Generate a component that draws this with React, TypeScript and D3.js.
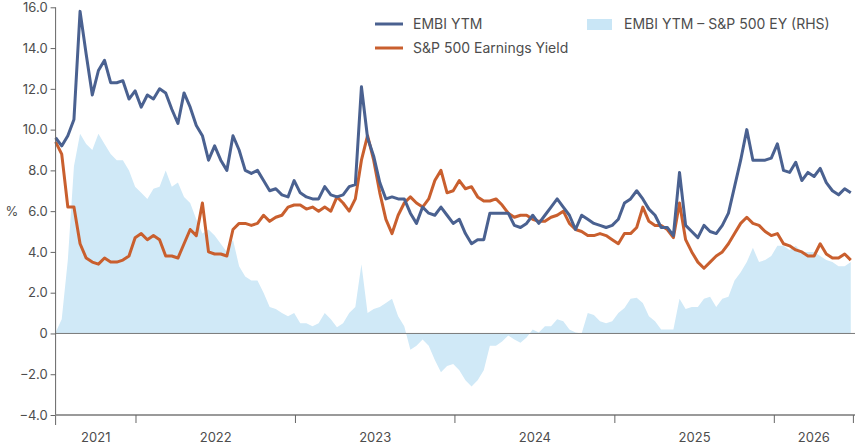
import * as d3 from "d3";
import { useEffect, useRef } from "react";

// fortnightly observations starting 1 Jul 2021
const startDate = new Date(2021, 6, 1);
const endDate = new Date(2026, 6, 1);
const stepDays = 14;

const embiYtm = [
  9.6, 9.2, 9.7, 10.5, 15.8, 13.7, 11.7, 12.9, 13.4, 12.3, 12.3, 12.4, 11.5, 11.9, 11.1, 11.7, 11.5, 12.0, 11.8, 11.0,
  10.3, 11.8, 11.1, 10.2, 9.7, 8.5, 9.2, 8.5, 8.0, 9.7, 9.0, 8.0, 7.85, 8.0, 7.5, 7.0, 7.1, 6.8, 6.7, 7.5,
  6.9, 6.7, 6.6, 6.6, 7.2, 6.8, 6.7, 6.8, 7.2, 7.3, 12.1, 9.6, 8.7, 7.4, 6.6, 6.7, 6.6, 6.6, 5.9, 5.4,
  6.2, 5.9, 5.8, 6.2, 5.8, 5.4, 5.6, 4.9, 4.4, 4.6, 4.6, 5.9, 5.9, 5.9, 5.9, 5.3, 5.2, 5.4, 5.8, 5.4,
  5.8, 6.2, 6.6, 6.2, 5.8, 5.1, 5.8, 5.6, 5.4, 5.3, 5.2, 5.3, 5.6, 6.4, 6.6, 7.0, 6.6, 6.1, 5.8, 5.2,
  5.2, 4.8, 7.9, 5.3, 5.0, 4.7, 5.3, 5.0, 4.9, 5.3, 5.9, 7.2, 8.5, 10.0, 8.5, 8.5, 8.5, 8.6, 9.3, 8.0,
  7.9, 8.4, 7.5, 7.9, 7.7, 8.1, 7.4, 7.0, 6.8, 7.1, 6.9,
];

const spEarningsYield = [
  9.4, 8.8, 6.2, 6.2, 4.4, 3.7, 3.5, 3.4, 3.7, 3.5, 3.5, 3.6, 3.8, 4.7, 4.9, 4.6, 4.8, 4.6, 3.8, 3.8,
  3.7, 4.4, 5.1, 4.8, 6.4, 4.0, 3.9, 3.9, 3.8, 5.1, 5.4, 5.4, 5.3, 5.4, 5.8, 5.5, 5.7, 5.8, 6.2, 6.3,
  6.3, 6.1, 6.2, 6.0, 6.2, 6.0, 6.7, 6.4, 6.0, 6.6, 8.5, 9.7, 8.5, 6.9, 5.6, 4.9, 5.8, 6.4, 6.7, 6.4,
  6.2, 6.6, 7.5, 8.0, 6.9, 7.0, 7.5, 7.1, 7.2, 6.7, 6.5, 6.5, 6.6, 6.3, 5.9, 5.7, 5.8, 5.8, 5.6, 5.5,
  5.5, 5.7, 5.8, 6.0, 5.4, 5.1, 5.0, 4.8, 4.8, 4.9, 4.8, 4.6, 4.4, 4.9, 4.9, 5.2, 6.2, 5.5, 5.3, 5.3,
  5.1, 4.7, 6.4, 4.6, 4.0, 3.5, 3.2, 3.5, 3.8, 4.0, 4.4, 4.9, 5.4, 5.7, 5.4, 5.3, 5.0, 4.8, 4.9, 4.4,
  4.3, 4.1, 4.0, 3.8, 3.8, 4.4, 3.9, 3.7, 3.7, 3.9, 3.6,
];

const spread = [
  0.05, 0.7, 3.6, 8.2, 9.8, 9.3, 9.0, 9.8, 9.3, 8.8, 8.5, 8.5, 8.0, 7.2, 6.9, 6.6, 7.1, 7.2, 8.0, 7.2,
  7.4, 6.7, 6.4, 5.6, 4.9, 5.1, 4.8, 4.4, 4.0, 4.6, 3.3, 2.8, 2.6, 2.6, 2.0, 1.3, 1.2, 1.0, 0.85, 1.0,
  0.5, 0.5, 0.35, 0.5, 1.0, 0.7, 0.3, 0.5, 1.0, 1.3, 3.4, 1.0, 1.2, 1.3, 1.5, 1.7, 0.85, 0.35, -0.8, -0.6,
  -0.3, -0.6, -1.3, -1.9, -1.6, -1.5, -1.8, -2.3, -2.6, -2.3, -1.8, -0.6, -0.6, -0.4, -0.1, -0.3, -0.45, -0.2, 0.2, 0.05,
  0.35, 0.35, 0.7, 0.6, 0.2, 0.05, 0.0, 1.0, 0.9, 0.6, 0.5, 0.6, 1.0, 1.25, 1.7, 1.75, 1.5, 0.85, 0.6, 0.2,
  0.2, 0.2, 1.7, 1.2, 1.3, 1.3, 1.7, 1.8, 1.3, 1.7, 1.8, 2.6, 3.0, 3.5, 4.2, 3.5, 3.6, 3.8, 4.3, 4.3,
  4.1, 4.3, 4.0, 4.0, 4.0, 3.8, 3.6, 3.5, 3.3, 3.3, 3.5,
];

const yTicks = [16, 14, 12, 10, 8, 6, 4, 2, 0, -2, -4];

const legendLines = [
  { label: "EMBI YTM", color: "#4a6190" },
  { label: "S&P 500 Earnings Yield", color: "#c95f2e" },
];
const legendArea = { label: "EMBI YTM \u2013 S&P 500 EY (RHS)", color: "#c9e6f6" };

export default function App() {
  const ref = useRef<SVGSVGElement>(null);

  useEffect(() => {
    if (!ref.current) return;
    const el = ref.current;
    d3.select(el).selectAll("*").remove();

    const W = 855;
    const H = 446;
    const margin = { top: 7.3, right: 1.6, bottom: 31, left: 55.6 };
    const font = "Inter, 'Noto Sans', sans-serif";
    const textColor = "#4d4d4d";

    const svg = d3.select(el).attr("width", W).attr("height", H);

    const dates = embiYtm.map((_, i) => d3.timeDay.offset(startDate, i * stepDays));

    const x = d3.scaleTime().domain([startDate, endDate]).range([margin.left, W - margin.right]);
    const y = d3
      .scaleLinear()
      .domain([-4, 16])
      .range([H - margin.bottom, margin.top]);

    // spread area (behind lines)
    const area = d3
      .area<number>()
      .x((_, i) => x(dates[i]))
      .y0(y(0))
      .y1(d => y(d));
    svg.append("path").datum(spread).attr("d", area).attr("fill", "#d0e9f7");

    // zero line
    svg
      .append("line")
      .attr("x1", margin.left)
      .attr("x2", W)
      .attr("y1", y(0))
      .attr("y2", y(0))
      .attr("stroke", "#7a7a7a")
      .attr("stroke-width", 1);

    // lines
    const line = d3
      .line<number>()
      .x((_, i) => x(dates[i]))
      .y(d => y(d));
    [
      { values: spEarningsYield, color: legendLines[1].color },
      { values: embiYtm, color: legendLines[0].color },
    ].forEach(s => {
      svg
        .append("path")
        .datum(s.values)
        .attr("d", line)
        .attr("fill", "none")
        .attr("stroke", s.color)
        .attr("stroke-width", 3)
        .attr("stroke-linejoin", "round");
    });

    // Y axis
    svg
      .append("g")
      .attr("transform", `translate(${margin.left},0)`)
      .call(
        d3
          .axisLeft(y)
          .tickValues(yTicks)
          .tickSize(5)
          .tickPadding(3)
          .tickFormat(d => (+d === 0 ? "0" : d3.format(".1f")(+d))),
      )
      .call(gg => gg.select(".domain").attr("stroke", "#666").attr("d", `M0,${margin.top}V${H - margin.bottom + 10}`))
      .call(gg => gg.selectAll("line").attr("stroke", "#666"))
      .call(gg =>
        gg.selectAll("text").attr("fill", textColor).attr("font-size", 13).attr("font-family", font),
      );

    svg
      .append("text")
      .attr("x", 12)
      .attr("y", y(6))
      .attr("dy", "0.35em")
      .attr("text-anchor", "middle")
      .attr("fill", textColor)
      .attr("font-size", 13)
      .attr("font-family", font)
      .text("%");

    // X axis baseline
    svg
      .append("line")
      .attr("x1", margin.left)
      .attr("x2", W)
      .attr("y1", y(-4))
      .attr("y2", y(-4))
      .attr("stroke", "#9a9a9a")
      .attr("stroke-width", 2);

    const yearStarts = d3.timeYear.range(d3.timeYear.ceil(startDate), endDate, 1);
    svg
      .append("g")
      .selectAll("line")
      .data([...yearStarts, endDate])
      .join("line")
      .attr("x1", d => x(d))
      .attr("x2", d => x(d))
      .attr("y1", y(-4))
      .attr("y2", y(-4) + 8)
      .attr("stroke", "#666");

    const years = d3.range(startDate.getFullYear(), endDate.getFullYear() + 1);
    svg
      .append("g")
      .selectAll("text")
      .data(years)
      .join("text")
      .attr("x", yr => {
        const a = Math.max(+new Date(yr, 0, 1), +startDate);
        const b = Math.min(+new Date(yr + 1, 0, 1), +endDate);
        return (x(new Date(a)) + x(new Date(b))) / 2;
      })
      .attr("y", H - 4)
      .attr("text-anchor", "middle")
      .attr("fill", textColor)
      .attr("font-size", 13)
      .attr("font-family", font)
      .text(yr => String(yr));

    // legend
    const lg = svg.append("g").attr("font-family", font).attr("font-size", 14).attr("fill", textColor);
    legendLines.forEach((l, i) => {
      const ly = 24 + i * 24;
      lg.append("line")
        .attr("x1", 375)
        .attr("x2", 403)
        .attr("y1", ly)
        .attr("y2", ly)
        .attr("stroke", l.color)
        .attr("stroke-width", 3);
      lg.append("text").attr("x", 413).attr("y", ly).attr("dy", "0.35em").text(l.label);
    });
    lg.append("rect").attr("x", 587).attr("y", 19).attr("width", 25).attr("height", 11).attr("fill", legendArea.color);
    lg.append("text").attr("x", 624).attr("y", 24).attr("dy", "0.35em").text(legendArea.label);
  }, []);

  return <svg ref={ref} style={{ position: "absolute", left: 0, top: 0, display: "block" }} />;
}
